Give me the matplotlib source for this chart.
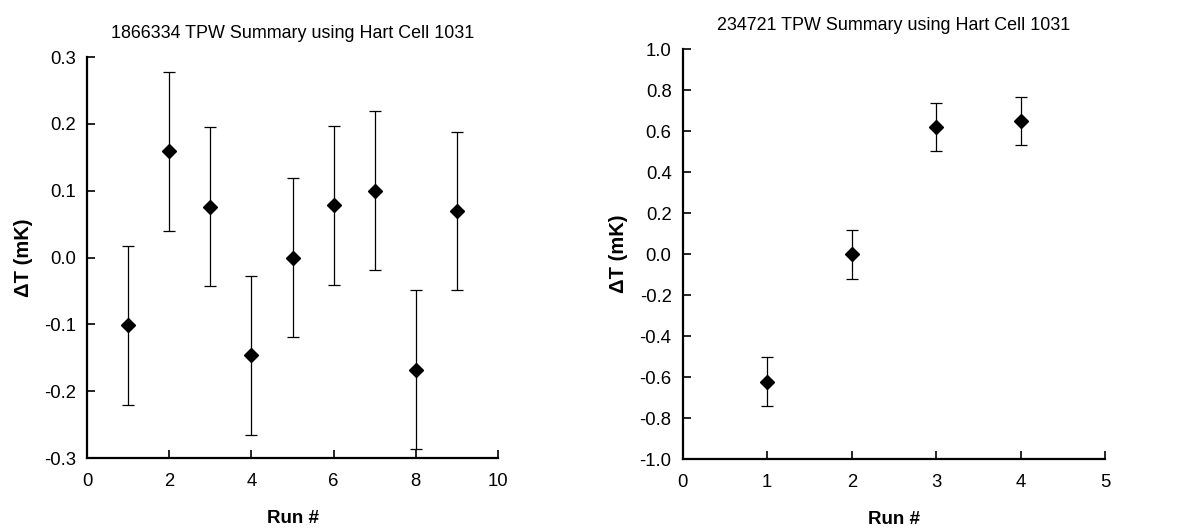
import matplotlib
matplotlib.use("Agg")
import matplotlib.pyplot as plt

plt.rcParams['font.family'] = ['Liberation Sans', 'DejaVu Sans']

# left chart: 1866334
runs_a = [1, 2, 3, 4, 5, 6, 7, 8, 9]
dt_a = [-0.101, 0.159, 0.076, -0.146, 0.000, 0.078, 0.100, -0.168, 0.070]
err_a = [0.119, 0.119, 0.119, 0.119, 0.119, 0.119, 0.119, 0.119, 0.118]
yticks_a = [-0.3, -0.2, -0.1, 0.0, 0.1, 0.2, 0.3]
xticks_a = [0, 2, 4, 6, 8, 10]

# right chart: 234721
runs_b = [1, 2, 3, 4]
dt_b = [-0.623, 0.000, 0.621, 0.649]
err_b = [0.120, 0.120, 0.118, 0.118]
yticks_b = [-1.0, -0.8, -0.6, -0.4, -0.2, 0.0, 0.2, 0.4, 0.6, 0.8, 1.0]
xticks_b = [0, 1, 2, 3, 4, 5]


def summary(ax, x, y, err, xticks, yticks, title):
    ax.errorbar(x, y, yerr=err, fmt='D', color='black', ms=7,
                ecolor='black', elinewidth=0.9, capsize=4, capthick=0.9)
    ax.set_xlim(xticks[0], xticks[-1])
    ax.set_ylim(yticks[0], yticks[-1])
    ax.set_xticks(xticks)
    ax.set_yticks(yticks)
    ax.set_yticklabels([f"{v:.1f}" for v in yticks])
    ax.tick_params(direction='in', length=6, width=1.2, labelsize=13.3)
    ax.tick_params(axis='x', pad=11)
    ax.tick_params(axis='y', pad=8)
    for s in ['top', 'right']:
        ax.spines[s].set_visible(False)
    for s in ['left', 'bottom']:
        ax.spines[s].set_linewidth(1.6)
    ax.set_title(title, fontsize=12.9, pad=14)
    ax.set_xlabel("Run #", fontsize=13.5, fontweight='bold', labelpad=14)
    ax.set_ylabel("ΔT (mK)", fontsize=14.5, fontweight='bold', labelpad=8)


fig = plt.figure(figsize=(11.81, 5.29), dpi=100)
ax1 = fig.add_axes([0.0737, 0.134, 0.348, 0.758])
ax2 = fig.add_axes([0.578, 0.132, 0.358, 0.775])

summary(ax1, runs_a, dt_a, err_a, xticks_a, yticks_a, "1866334 TPW Summary using Hart Cell 1031")
summary(ax2, runs_b, dt_b, err_b, xticks_b, yticks_b, "234721 TPW Summary using Hart Cell 1031")

fig.savefig("out.png", dpi=100)
